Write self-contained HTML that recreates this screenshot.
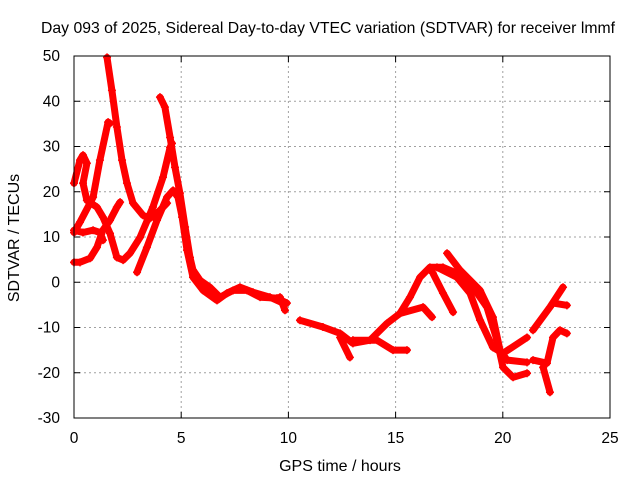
<!DOCTYPE html>
<html><head><meta charset="utf-8"><style>
body{margin:0;background:#fff;}
svg{display:block;font-family:"Liberation Sans",sans-serif;}
</style></head><body>
<svg id="chart" width="640" height="480" xmlns="http://www.w3.org/2000/svg">
<text x="328" y="33" font-size="15.8" text-anchor="middle" textLength="574" lengthAdjust="spacingAndGlyphs">Day 093 of 2025, Sidereal Day-to-day VTEC variation (SDTVAR) for receiver lmmf</text>
<text x="340" y="471" font-size="16" text-anchor="middle">GPS time / hours</text>
<text transform="translate(19,238) rotate(-90)" font-size="16" text-anchor="middle">SDTVAR / TECUs</text>
<g id="grid"></g><g id="ticks"></g><g id="series"></g>
<rect x="74" y="56" width="536" height="362" fill="none" stroke="#000" stroke-width="1"/>
</svg>
<script>
const xTicks=[0,5,10,15,20,25];
const yTicks=[-30,-20,-10,0,10,20,30,40,50];
const s1h=[1.54,1.77,2.0,2.24,2.47,2.75,3.22,3.54,4.01,4.34];
const s1v=[49.7,42.4,34.3,27.0,21.9,17.5,14.8,14.1,15.9,17.5];
const s2h=[0.0,0.28,0.89,1.21,1.59,1.68];
const s2v=[11.0,13.3,18.8,27.0,35.4,35.1];
const s3h=[0,0.28,0.42,0.6,0.42,0.6,1.07,1.35,1.68,2.0,2.29,2.61,3.08,3.68,4.15,4.48,4.57];
const s3v=[21.9,27.0,28.1,26.3,21.9,18.1,16.6,14.4,10.8,5.5,4.9,6.4,9.9,16.6,23.2,29.8,30.7];
const s4h=[0,0.28,0.75,1.07,1.35,1.68,2.0,2.15];
const s4v=[4.4,4.4,5.3,7.7,11.5,13.7,16.6,17.7];
const s5h=[0,0.42,0.89,1.21,1.35];
const s5v=[11.5,11.0,11.5,11.0,9.3];
const s6h=[2.94,3.4,3.87,4.34,4.62,4.85,5.04,5.27,5.55,6.02,6.67,7.14,7.74,8.35,9.14,9.75];
const s6v=[2.2,7.7,13.7,18.8,20.3,18.8,14.4,7.1,1.1,-1.8,-4.0,-2.4,-1.1,-2.2,-3.3,-4.6];
const s7h=[4.01,4.24,4.48,4.71,4.94,5.18,5.41,5.55,5.88,6.34,6.81,7.42,8.07,8.68,9.47,9.93];
const s7v=[40.9,38.7,32.0,25.4,19.7,12.2,5.5,2.7,0.4,-1.1,-3.3,-1.8,-1.8,-3.3,-3.5,-4.6];
const s8h=[10.54,11.61,12.41,13.01,13.81,14.6,15.2,15.67,16.14,16.6,17.21,17.86,18.61,19.26,19.73,20.01,20.48,21.13];
const s8v=[-8.4,-9.9,-11.3,-13.5,-12.8,-9.1,-6.9,-3.3,1.1,3.3,3.3,2.0,-1.1,-5.5,-12.8,-18.8,-21.0,-20.1];
const s9h=[16.74,17.21,17.68];
const s9v=[2.0,-2.4,-6.6];
const s10h=[16.93,17.86,18.47,18.94,19.54,20.01,21.13];
const s10v=[3.3,1.1,-2.4,-8.4,-14.4,-15.7,-12.2];
const s11h=[17.4,18.0,18.94,19.54,19.87,20.2,21.13];
const s11v=[6.4,2.7,-1.8,-7.7,-15.0,-17.2,-17.7];
const s12h=[15.2,16.28,16.7];
const s12v=[-6.9,-5.5,-7.7];
const s13h=[13.01,14.13,14.88,15.53];
const s13v=[-12.8,-12.8,-15.0,-15.0];
const s14h=[12.41,12.87];
const s14v=[-12.2,-16.6];
const s15h=[21.41,22.2,22.81];
const s15v=[-10.6,-5.5,-1.1];
const s16h=[22.34,22.99];
const s16v=[-4.6,-5.1];
const s17h=[21.41,22.06,22.34,22.67,22.99];
const s17v=[-17.2,-17.9,-12.2,-10.6,-11.3];
const s18h=[21.88,22.2];
const s18v=[-18.8,-24.3];
const s19h=[9.61,9.84];
const s19v=[-3.3,-6.2];
const seriesH=[s1h,s2h,s3h,s4h,s5h,s6h,s7h,s8h,s9h,s10h,s11h,s12h,s13h,s14h,s15h,s16h,s17h,s18h,s19h];
const seriesV=[s1v,s2v,s3v,s4v,s5v,s6v,s7v,s8v,s9v,s10v,s11v,s12v,s13v,s14v,s15v,s16v,s17v,s18v,s19v];
const NS="http://www.w3.org/2000/svg";
const X0=74,X1=610,Y0=418,Y1=56;
function xs(h){return X0+(h-0)/25*(X1-X0);}
function ys(v){return Y0-(v+30)/80*(Y0-Y1);}
const grid=document.getElementById('grid'),ticks=document.getElementById('ticks'),ser=document.getElementById('series');
function mk(t,a,p){const e=document.createElementNS(NS,t);for(const k in a)e.setAttribute(k,a[k]);p.appendChild(e);return e;}
xTicks.forEach(t=>{const x=xs(t);
 if(t>0&&t<25){const g=mk('line',{x1:x,x2:x,y1:Y1,y2:Y0,stroke:'#a0a0a0','stroke-dasharray':'2,3'},grid);
 
 }
 mk('line',{x1:x,x2:x,y1:Y0,y2:Y0-6,stroke:'#000'},ticks);mk('line',{x1:x,x2:x,y1:Y1,y2:Y1+6,stroke:'#000'},ticks);
 const l=mk('text',{x:x,y:Y0+25,'font-size':15.5,'text-anchor':'middle'},ticks);l.textContent=t;
 
 });
yTicks.forEach(t=>{const y=ys(t);
 if(t>-30&&t<50){const g=mk('line',{x1:X0,x2:X1,y1:y,y2:y,stroke:'#a0a0a0','stroke-dasharray':'2,3'},grid);
 
 }
 mk('line',{x1:X0,x2:X0+6,y1:y,y2:y,stroke:'#000'},ticks);mk('line',{x1:X1,x2:X1-6,y1:y,y2:y,stroke:'#000'},ticks);
 const l=mk('text',{x:X0-14,y:y+5,'font-size':15.5,'text-anchor':'end'},ticks);l.textContent=t;
 
 });
seriesH.forEach((hs,i)=>{const vs=seriesV[i];
 const pts=hs.map((h,j)=>xs(h).toFixed(1)+','+ys(vs[j]).toFixed(1)).join(' ');
 const p=mk('polyline',{points:pts,fill:'none',stroke:'#ff0000','stroke-width':7,'stroke-linejoin':'round','stroke-linecap':'round'},ser);
 
 
 hs.forEach((h,j)=>{const x=xs(h),y=ys(vs[j]);
  const m=mk('path',{d:`M${x-4},${y}h8M${x},${y-4}v8`,stroke:'#ff0000','stroke-width':1.5},ser);
  
  });
});
</script>
</body></html>
